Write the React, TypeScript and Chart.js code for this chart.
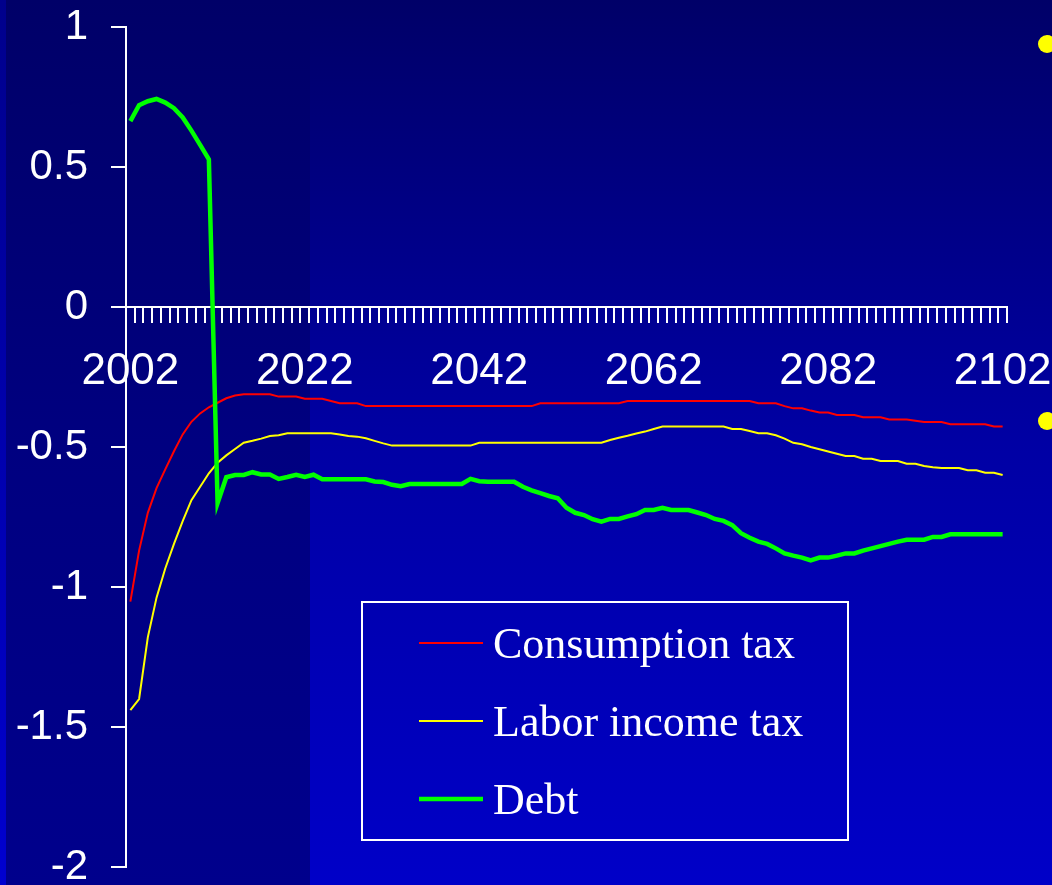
import React, { useEffect, useRef } from 'react';
import { Chart, registerables } from 'chart.js';

Chart.register(...registerables);

const years: string[] = [
  '2002', '2003', '2004', '2005', '2006', '2007', '2008', '2009', '2010', '2011',
  '2012', '2013', '2014', '2015', '2016', '2017', '2018', '2019', '2020', '2021',
  '2022', '2023', '2024', '2025', '2026', '2027', '2028', '2029', '2030', '2031',
  '2032', '2033', '2034', '2035', '2036', '2037', '2038', '2039', '2040', '2041',
  '2042', '2043', '2044', '2045', '2046', '2047', '2048', '2049', '2050', '2051',
  '2052', '2053', '2054', '2055', '2056', '2057', '2058', '2059', '2060', '2061',
  '2062', '2063', '2064', '2065', '2066', '2067', '2068', '2069', '2070', '2071',
  '2072', '2073', '2074', '2075', '2076', '2077', '2078', '2079', '2080', '2081',
  '2082', '2083', '2084', '2085', '2086', '2087', '2088', '2089', '2090', '2091',
  '2092', '2093', '2094', '2095', '2096', '2097', '2098', '2099', '2100', '2101',
  '2102',
];

const xTickLabels: string[] = ['2002', '2022', '2042', '2062', '2082', '2102'];

const consumptionTax: number[] = [
  -1.052, -0.87, -0.735, -0.647, -0.58, -0.515, -0.455, -0.41, -0.38, -0.358,
  -0.342, -0.326, -0.316, -0.312, -0.312, -0.312, -0.312, -0.32, -0.32, -0.32,
  -0.328, -0.328, -0.328, -0.336, -0.344, -0.344, -0.344, -0.354, -0.354, -0.354,
  -0.354, -0.354, -0.354, -0.354, -0.354, -0.354, -0.354, -0.354, -0.354, -0.354,
  -0.354, -0.354, -0.354, -0.354, -0.354, -0.354, -0.354, -0.344, -0.344, -0.344,
  -0.344, -0.344, -0.344, -0.344, -0.344, -0.344, -0.344, -0.336, -0.336, -0.336,
  -0.336, -0.336, -0.336, -0.336, -0.336, -0.336, -0.336, -0.336, -0.336, -0.336,
  -0.336, -0.336, -0.344, -0.344, -0.344, -0.354, -0.362, -0.362, -0.37, -0.377,
  -0.377, -0.386, -0.386, -0.386, -0.394, -0.394, -0.394, -0.402, -0.402, -0.402,
  -0.406, -0.411, -0.411, -0.411, -0.419, -0.419, -0.419, -0.419, -0.419, -0.427,
  -0.427,
];

const laborIncomeTax: number[] = [
  -1.44, -1.4, -1.18, -1.038, -0.934, -0.846, -0.765, -0.69, -0.642, -0.594,
  -0.556, -0.53, -0.507, -0.485, -0.478, -0.47, -0.461, -0.458, -0.451, -0.451,
  -0.451, -0.451, -0.451, -0.451, -0.455, -0.461, -0.463, -0.469, -0.478, -0.487,
  -0.495, -0.495, -0.495, -0.495, -0.495, -0.495, -0.495, -0.495, -0.495, -0.495,
  -0.485, -0.485, -0.485, -0.485, -0.485, -0.485, -0.485, -0.485, -0.485, -0.485,
  -0.485, -0.485, -0.485, -0.485, -0.485, -0.475, -0.467, -0.46, -0.452, -0.445,
  -0.436, -0.427, -0.427, -0.427, -0.427, -0.427, -0.427, -0.427, -0.427, -0.436,
  -0.436, -0.443, -0.451, -0.451, -0.458, -0.47, -0.485, -0.49, -0.5, -0.508,
  -0.516, -0.524, -0.532, -0.532, -0.542, -0.542, -0.55, -0.55, -0.55, -0.56,
  -0.56, -0.568, -0.572, -0.575, -0.575, -0.575, -0.583, -0.583, -0.592, -0.592,
  -0.6,
];

const debt: number[] = [
  0.664, 0.721, 0.735, 0.743, 0.73, 0.71, 0.677, 0.63, 0.579, 0.527,
  -0.7, -0.608, -0.6, -0.6, -0.59, -0.598, -0.598, -0.614, -0.607, -0.599,
  -0.607, -0.599, -0.615, -0.615, -0.615, -0.615, -0.615, -0.615, -0.623, -0.625,
  -0.635, -0.64, -0.632, -0.632, -0.632, -0.632, -0.632, -0.632, -0.632, -0.614,
  -0.622, -0.624, -0.624, -0.624, -0.624, -0.642, -0.655, -0.665, -0.675, -0.683,
  -0.717, -0.735, -0.743, -0.758, -0.767, -0.757, -0.757, -0.748, -0.74, -0.725,
  -0.725, -0.717, -0.725, -0.725, -0.725, -0.734, -0.743, -0.757, -0.764, -0.779,
  -0.808, -0.824, -0.838, -0.846, -0.862, -0.88, -0.888, -0.895, -0.905, -0.895,
  -0.895, -0.888, -0.88, -0.88, -0.87, -0.862, -0.854, -0.846, -0.838, -0.831,
  -0.831, -0.831, -0.821, -0.821, -0.812, -0.812, -0.812, -0.812, -0.812, -0.812,
  -0.812,
];

const seriesNames: string[] = ['Consumption tax', 'Labor income tax', 'Debt'];
const seriesColors: string[] = ['#ff0000', '#ffff00', '#00ff00'];
const seriesWidths: number[] = [2, 2, 4.5];

const SANS = "'Liberation Sans', Arial, sans-serif";
const SERIF = "'Liberation Serif', 'Times New Roman', serif";

const backgroundPlugin = {
  id: 'slideBackground',
  beforeDraw(chart: any) {
    const { ctx, width, height } = chart;
    ctx.save();
    const g = ctx.createLinearGradient(0, 0, 0, height);
    g.addColorStop(0, '#000068');
    g.addColorStop(0.5, '#0000a4');
    g.addColorStop(1, '#0000c8');
    ctx.fillStyle = g;
    ctx.fillRect(0, 0, width, height);
    const p = ctx.createLinearGradient(0, 0, 0, height);
    p.addColorStop(0, '#000068');
    p.addColorStop(0.5, '#000080');
    p.addColorStop(1, '#00008c');
    ctx.fillStyle = p;
    ctx.fillRect(6, 0, 304, height);
    const s = ctx.createLinearGradient(0, 0, 0, height);
    s.addColorStop(0, '#00008c');
    s.addColorStop(1, '#0000d0');
    ctx.fillStyle = s;
    ctx.fillRect(0, 0, 6, height);
    ctx.fillStyle = '#ffff00';
    ctx.beginPath();
    ctx.arc(1047, 44, 9, 0, Math.PI * 2);
    ctx.fill();
    ctx.beginPath();
    ctx.arc(1047, 421, 9, 0, Math.PI * 2);
    ctx.fill();
    ctx.restore();
  },
};

const legendPlugin = {
  id: 'boxLegend',
  afterDatasetsDraw(chart: any) {
    const { ctx } = chart;
    ctx.save();
    ctx.strokeStyle = '#ffffff';
    ctx.lineWidth = 2;
    ctx.strokeRect(362, 602, 486, 238);
    const rows = [643, 721, 799];
    chart.data.datasets.forEach((ds: any, i: number) => {
      const y = rows[i];
      ctx.strokeStyle = ds.borderColor;
      ctx.lineWidth = ds.borderWidth;
      ctx.lineCap = 'butt';
      ctx.beginPath();
      ctx.moveTo(419, y);
      ctx.lineTo(483, y);
      ctx.stroke();
      ctx.fillStyle = '#ffffff';
      ctx.font = `44px ${SERIF}`;
      ctx.textBaseline = 'alphabetic';
      ctx.textAlign = 'left';
      ctx.fillText(ds.label, 493, y + 15);
    });
    ctx.restore();
  },
};

export default function App() {
  const canvasRef = useRef<HTMLCanvasElement | null>(null);

  useEffect(() => {
    const canvas = canvasRef.current;
    if (!canvas) return;
    const chart = new Chart(canvas, {
      type: 'line',
      data: {
        labels: years,
        datasets: [consumptionTax, laborIncomeTax, debt].map((values, i) => ({
          label: seriesNames[i],
          data: values,
          borderColor: seriesColors[i],
          backgroundColor: seriesColors[i],
          borderWidth: seriesWidths[i],
          pointRadius: 0,
          tension: 0,
          fill: false,
          order: 3 - i,
        })),
      },
      options: {
        animation: false,
        responsive: false,
        devicePixelRatio: 1,
        layout: { padding: { top: 27, bottom: 18, right: 45, left: 0 } },
        plugins: {
          legend: { display: false },
          tooltip: { enabled: false },
        },
        scales: {
          x: {
            type: 'category',
            position: { y: 0 } as any,
            offset: true,
            grid: {
              display: true,
              drawOnChartArea: false,
              drawTicks: true,
              tickLength: 15,
              color: '#ffffff',
              lineWidth: 2,
              offset: true,
            },
            border: { display: true, color: '#ffffff', width: 2 },
            ticks: {
              autoSkip: false,
              maxRotation: 0,
              minRotation: 0,
              color: '#ffffff',
              padding: 23,
              font: { family: SANS, size: 44 },
              callback: (_v: any, i: number) => (xTickLabels.includes(years[i]) ? years[i] : ''),
            },
            afterFit: (s: any) => {
              s.paddingLeft = 0;
              s.paddingRight = 0;
            },
          },
          y: {
            type: 'linear',
            min: -2,
            max: 1,
            grid: {
              display: true,
              drawOnChartArea: false,
              drawTicks: true,
              tickLength: 15,
              color: '#ffffff',
              lineWidth: 2,
            },
            border: { display: true, color: '#ffffff', width: 2 },
            ticks: {
              stepSize: 0.5,
              color: '#ffffff',
              padding: 23,
              font: { family: SANS, size: 42 },
              callback: (v: any) => String(v),
            },
            afterFit: (s: any) => {
              s.width = 126;
              s.paddingTop = 0;
              s.paddingBottom = 0;
            },
          },
        },
      } as any,
      plugins: [backgroundPlugin, legendPlugin],
    });
    return () => chart.destroy();
  }, []);

  return (
    <div style={{ position: 'fixed', left: 0, top: 0, width: 1052, height: 885 }}>
      <canvas ref={canvasRef} width={1052} height={885} />
    </div>
  );
}
